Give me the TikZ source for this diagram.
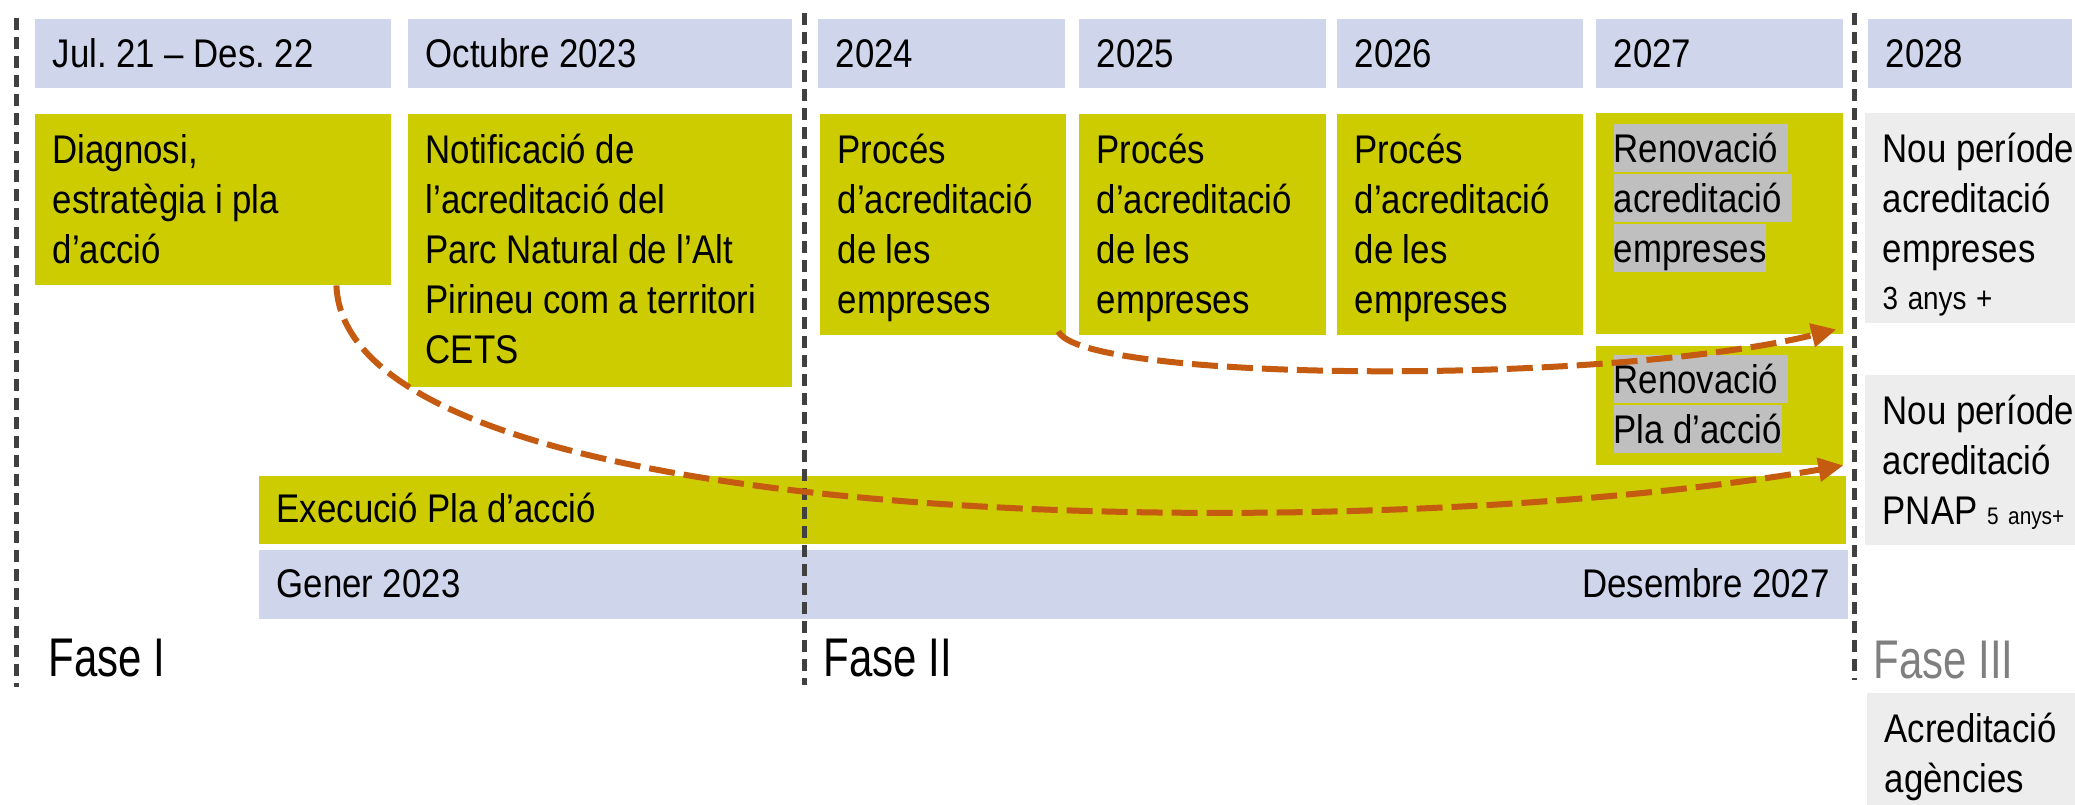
\documentclass[tikz,border=0pt]{standalone}
\usepackage{fontspec}
\setmainfont[FakeStretch=0.87]{Liberation Sans}
\newfontfamily\fasefont[FakeStretch=0.77]{Liberation Sans}
\usetikzlibrary{arrows.meta}
\definecolor{headblue}{HTML}{CFD5EA}
\definecolor{taskgreen}{HTML}{CCCC00}
\definecolor{nextgrey}{HTML}{EDEDED}
\definecolor{markgrey}{HTML}{BFBFBF}
\definecolor{fasegrey}{HTML}{7F7F7F}
\definecolor{carryorange}{HTML}{C55A11}
\definecolor{phasegrey}{HTML}{404040}
\newcommand\marked[1]{{\setlength\fboxsep{0pt}\colorbox{markgrey}{\rule[-0.9mm]{0pt}{4.8mm}#1}}}
\frenchspacing

\begin{document}
\begin{tikzpicture}[x=0.1mm,y=-0.1mm,
    cell/.style={anchor=north west,inner xsep=1.8mm,inner ysep=0pt,align=left,
      font=\fontsize{11.38pt}{14.23pt}\selectfont,
      execute at begin node={\spaceskip=0.24em\xspaceskip=0.24em\relax}},
    yearbox/.style={cell,fill=headblue,text height=4.9mm,text depth=2mm},
    taskbox/.style={cell,fill=taskgreen,text height=5mm},
    nextbox/.style={cell,fill=nextgrey,text height=5mm,text width=18mm},
    fasetext/.style={anchor=base west,inner sep=0pt,font=\fasefont\fontsize{15.5pt}{18pt}\selectfont},
    divider/.style={draw=phasegrey,line width=0.5mm,dash pattern=on 1.2mm off 0.7mm},
    carry/.style={draw=carryorange,line width=0.6mm,dash pattern=on 2.6mm off 0.9mm,
      -{Triangle[length=2.5mm,width=2.3mm]}}]
                    \useasboundingbox (0,0) rectangle (2075,805);
                    \node[yearbox,text width=32mm] (jul node) at (34,18) {Jul. 21 – Des. 22};
                    \node[yearbox,text width=34.8mm] (oct node) at (407,18) {Octubre 2023};
                    \node[yearbox,text width=21.1mm] (y24 node) at (817,18) {2024};
                    \node[yearbox,text width=21.1mm] (y25 node) at (1078,18) {2025};
                    \node[yearbox,text width=21mm] (y26 node) at (1336,18) {2026};
                    \node[yearbox,text width=21.1mm] (y27 node) at (1595,18) {2027};
                    \node[yearbox,text width=16.8mm] (y28 node) at (1867,18) {2028};

                    \node[taskbox,text width=32mm,text depth=12.1mm] (diag node) at (34,113) {Diagnosi,\\estratègia i pla\\d’acció};
                    \node[taskbox,text width=34.8mm,text depth=22.3mm] (notif node) at (407,113)
                        {Notificació de\\l’acreditació del\\Parc Natural de l’Alt\\Pirineu com a territori\\CETS};
                    \node[taskbox,text width=21mm,text depth=17.1mm] (proc24 node) at (819,113) {Procés\\d’acreditació\\de les\\empreses};
                    \node[taskbox,text width=21.1mm,text depth=17.1mm] (proc25 node) at (1078,113) {Procés\\d’acreditació\\de les\\empreses};
                    \node[taskbox,text width=21mm,text depth=17.1mm] (proc26 node) at (1336,113) {Procés\\d’acreditació\\de les\\empreses};
                    \node[taskbox,text width=21.1mm,text depth=17.1mm] (renov node) at (1595,112)
                        {\marked{Renovació\ }\\\marked{acreditació\ }\\\marked{empreses}};
                    \node[taskbox,text width=21.1mm,text height=4.8mm,text depth=7.1mm] (renovpla node) at (1595,345)
                        {\marked{Renovació\ }\\\marked{Pla d’acció}};
                    \node[taskbox,text width=155.1mm,text height=4.7mm,text depth=2.1mm] (exec node) at (258,475) {Execució Pla d’acció};
                    \node[yearbox,text width=155.3mm,text height=4.8mm,text depth=2.1mm] (span node) at (258,549)
                        {Gener 2023\hspace{\stretch{1}}Desembre 2027};

                    \node[nextbox,text depth=16mm] (period1 node) at (1864,112)
                        {Nou~període\\acreditació\\empreses\\[-0.3mm]{\fontsize{9.1pt}{11pt}\selectfont 3~anys~+}};
                    \node[nextbox,text depth=12mm] (period2 node) at (1864,374)
                        {Nou~període\\acreditació\\\mbox{PNAP {\fontsize{6.8pt}{8pt}\selectfont 5~anys+}}};
                    \node[nextbox,text depth=6.3mm] (agencies node) at (1866,692) {Acreditació\\agències};

                    \node[fasetext] (fase1 node) at (48,677) {Fase I};
                    \node[fasetext] (fase2 node) at (823,677) {Fase II};
                    \node[fasetext,text=fasegrey] (fase3 node) at (1873,678) {Fase III};

                    \draw[divider] (16,18) -- (16,687);
                    \draw[divider] (804,13) -- (804,685);
                    \draw[divider] (1854,13) -- (1854,680);

                    \draw[carry] ([xshift=-0.8mm,yshift=0.4mm]proc24 node.south east)
                        .. controls +(23,50) and +(-235,57) .. ([xshift=-0.7mm,yshift=0.5mm]renov node.south east);
                    \draw[carry] ([xshift=-5.5mm]diag node.south east)
                        .. controls +(10,256) and +(-462,81) .. (renovpla node.south east);
                \end{tikzpicture}
\end{document}
